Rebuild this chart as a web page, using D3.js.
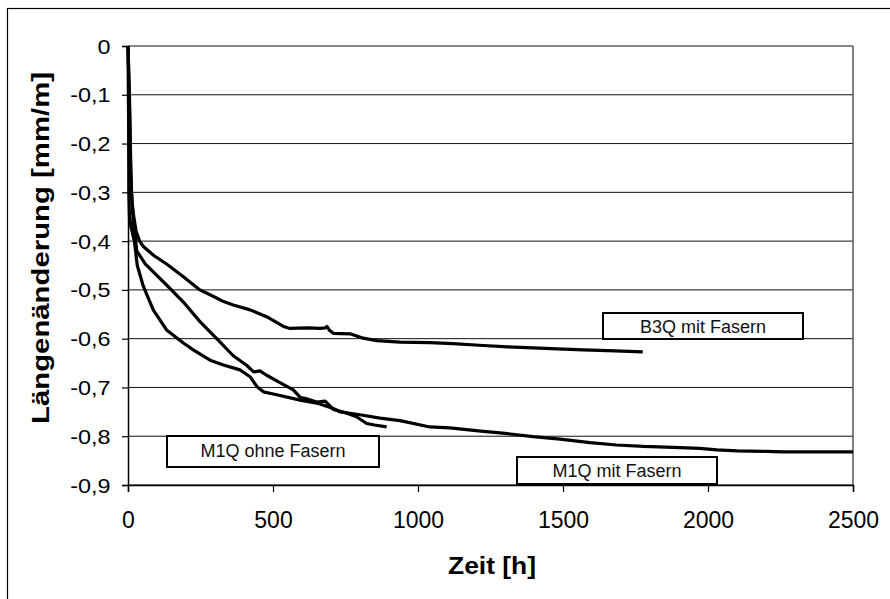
<!DOCTYPE html>
<html>
<head>
<meta charset="utf-8">
<script src="https://cdn.jsdelivr.net/npm/d3@7"></script>
<style>
  html, body { margin: 0; padding: 0; background: #fff; }
  svg { display: block; font-family: "Liberation Sans", Arial, sans-serif; }
</style>
</head>
<body>
<svg id="chart" width="890" height="599"></svg>
<script>
// Tick values
const xTicks = [0, 500, 1000, 1500, 2000, 2500];
const yTicks = [0, -0.1, -0.2, -0.3, -0.4, -0.5, -0.6, -0.7, -0.8, -0.9];

// Series names
const seriesNames = ["B3Q mit Fasern", "M1Q mit Fasern", "M1Q ohne Fasern"];

// B3Q mit Fasern: time [h], length change [mm/m]
const b3qTime  = [0, 4, 6, 9, 14, 20, 28, 40, 53, 90, 133, 191, 248, 283, 330, 363, 421, 478, 536, 559, 620, 662, 680, 686, 695, 708, 766, 811, 858, 938, 1041, 1120, 1225, 1310, 1397, 1480, 1570, 1680, 1775];
const b3qValue = [0, -0.10, -0.15, -0.26, -0.32, -0.35, -0.38, -0.40, -0.411, -0.43, -0.447, -0.473, -0.500, -0.510, -0.524, -0.531, -0.541, -0.555, -0.575, -0.579, -0.578, -0.579, -0.578, -0.575, -0.583, -0.589, -0.590, -0.599, -0.604, -0.607, -0.608, -0.610, -0.614, -0.617, -0.619, -0.621, -0.623, -0.625, -0.627];

// M1Q mit Fasern
const m1qMitTime  = [0, 2, 3, 5, 10, 22, 32, 53, 87, 133, 191, 225, 283, 329, 386, 421, 444, 467, 513, 593, 651, 708, 731, 800, 869, 938, 1041, 1110, 1225, 1283, 1397, 1490, 1593, 1685, 1777, 1880, 1972, 2030, 2100, 2202, 2259, 2350, 2500];
const m1qMitValue = [0, -0.15, -0.30, -0.35, -0.37, -0.40, -0.45, -0.493, -0.541, -0.582, -0.609, -0.623, -0.644, -0.654, -0.664, -0.678, -0.698, -0.709, -0.715, -0.726, -0.732, -0.743, -0.750, -0.756, -0.763, -0.768, -0.781, -0.783, -0.790, -0.793, -0.801, -0.806, -0.813, -0.818, -0.821, -0.823, -0.825, -0.828, -0.830, -0.831, -0.832, -0.832, -0.832];

// M1Q ohne Fasern
const m1qOhneTime  = [0, 5, 8, 12, 18, 25, 30, 60, 133, 191, 248, 306, 363, 410, 433, 455, 478, 524, 570, 593, 620, 651, 680, 708, 750, 788, 823, 850, 892];
const m1qOhneValue = [0, -0.10, -0.20, -0.30, -0.36, -0.39, -0.42, -0.447, -0.49, -0.525, -0.565, -0.60, -0.635, -0.655, -0.668, -0.666, -0.675, -0.69, -0.705, -0.72, -0.724, -0.73, -0.728, -0.745, -0.752, -0.76, -0.774, -0.777, -0.781];

const series = [
  { name: seriesNames[0], t: b3qTime, v: b3qValue },
  { name: seriesNames[1], t: m1qMitTime, v: m1qMitValue },
  { name: seriesNames[2], t: m1qOhneTime, v: m1qOhneValue }
];

const svg = d3.select("#chart");
const plot = { left: 128, right: 853, top: 46, bottom: 485 };

const x = d3.scaleLinear().domain([0, 2500]).range([plot.left, plot.right]);
const y = d3.scaleLinear().domain([0, -0.9]).range([plot.top, plot.bottom]);

const de = d3.formatLocale({ decimal: ",", thousands: ".", grouping: [3], currency: ["", " €"], minus: "-" });
const fmtY = de.format(".1~f");

// outer frame
svg.append("rect")
  .attr("x", 7.5).attr("y", 8.5)
  .attr("width", 900).attr("height", 600)
  .attr("fill", "#fff").attr("stroke", "#000").attr("stroke-width", 1.2);

// horizontal gridlines
svg.append("g")
  .selectAll("line")
  .data(yTicks)
  .join("line")
  .attr("x1", plot.left).attr("x2", plot.right)
  .attr("y1", d => y(d)).attr("y2", d => y(d))
  .attr("stroke", "#111").attr("stroke-width", 1);

// right plot border
svg.append("line")
  .attr("x1", plot.right).attr("x2", plot.right)
  .attr("y1", plot.top).attr("y2", plot.bottom)
  .attr("stroke", "#555").attr("stroke-width", 1.5);

// y axis
const yAxis = svg.append("g")
  .attr("transform", `translate(${plot.left},0)`)
  .call(d3.axisLeft(y).tickValues(yTicks).tickSize(6).tickPadding(8.6).tickFormat(fmtY));
yAxis.select(".domain").attr("stroke", "#000").attr("stroke-width", 1.5);
yAxis.selectAll(".tick line").attr("stroke", "#000").attr("stroke-width", 1.2);
yAxis.selectAll(".tick text")
  .attr("fill", "#000")
  .attr("font-size", 19.5)
  .attr("font-family", "Liberation Sans, Arial, sans-serif")
  .attr("dy", "0.36em")
  .attr("transform", "scale(1.2,1)");

// x axis
const xAxis = svg.append("g")
  .attr("transform", `translate(0,${plot.bottom})`)
  .call(d3.axisBottom(x).tickValues(xTicks).tickSize(7).tickPadding(20).tickFormat(d3.format("d")));
xAxis.select(".domain").attr("stroke", "#000").attr("stroke-width", 1.5);
xAxis.selectAll(".tick line").attr("stroke", "#000").attr("stroke-width", 1.2);
xAxis.selectAll(".tick text")
  .attr("fill", "#000")
  .attr("font-size", 23)
  .attr("font-family", "Liberation Sans, Arial, sans-serif");

// series lines
const line = d3.line()
  .x(d => x(d[0]))
  .y(d => y(d[1]))
  .curve(d3.curveLinear);

svg.append("g")
  .selectAll("path")
  .data(series)
  .join("path")
  .attr("d", s => line(s.t.map((t, i) => [t, s.v[i]])))
  .attr("fill", "none")
  .attr("stroke", "#000")
  .attr("stroke-width", 3.2)
  .attr("stroke-linejoin", "round")
  .attr("stroke-linecap", "butt");

// series label boxes
const boxes = [
  { name: seriesNames[0], x0: 603, y0: 313, x1: 803, y1: 339, base: 333 },
  { name: seriesNames[1], x0: 517, y0: 457, x1: 717, y1: 484, base: 477 },
  { name: seriesNames[2], x0: 167, y0: 436, x1: 379, y1: 467, base: 457 }
];
const bg = svg.append("g").selectAll("g").data(boxes).join("g");
bg.append("rect")
  .attr("x", d => d.x0).attr("y", d => d.y0)
  .attr("width", d => d.x1 - d.x0).attr("height", d => d.y1 - d.y0)
  .attr("fill", "#fff").attr("stroke", "#000").attr("stroke-width", 2);
bg.append("text")
  .attr("x", d => (d.x0 + d.x1) / 2).attr("y", d => d.base)
  .attr("text-anchor", "middle")
  .attr("font-size", 18)
  .attr("fill", "#111")
  .text(d => d.name);

// axis titles
svg.append("text")
  .attr("transform", "translate(49,248) rotate(-90)")
  .attr("text-anchor", "middle")
  .attr("font-size", 23)
  .attr("font-weight", "bold")
  .attr("textLength", 352)
  .attr("lengthAdjust", "spacingAndGlyphs")
  .text("Längenänderung [mm/m]");

svg.append("text")
  .attr("x", 492).attr("y", 574)
  .attr("text-anchor", "middle")
  .attr("font-size", 23)
  .attr("font-weight", "bold")
  .attr("textLength", 88)
  .attr("lengthAdjust", "spacingAndGlyphs")
  .text("Zeit [h]");
</script>
</body>
</html>
